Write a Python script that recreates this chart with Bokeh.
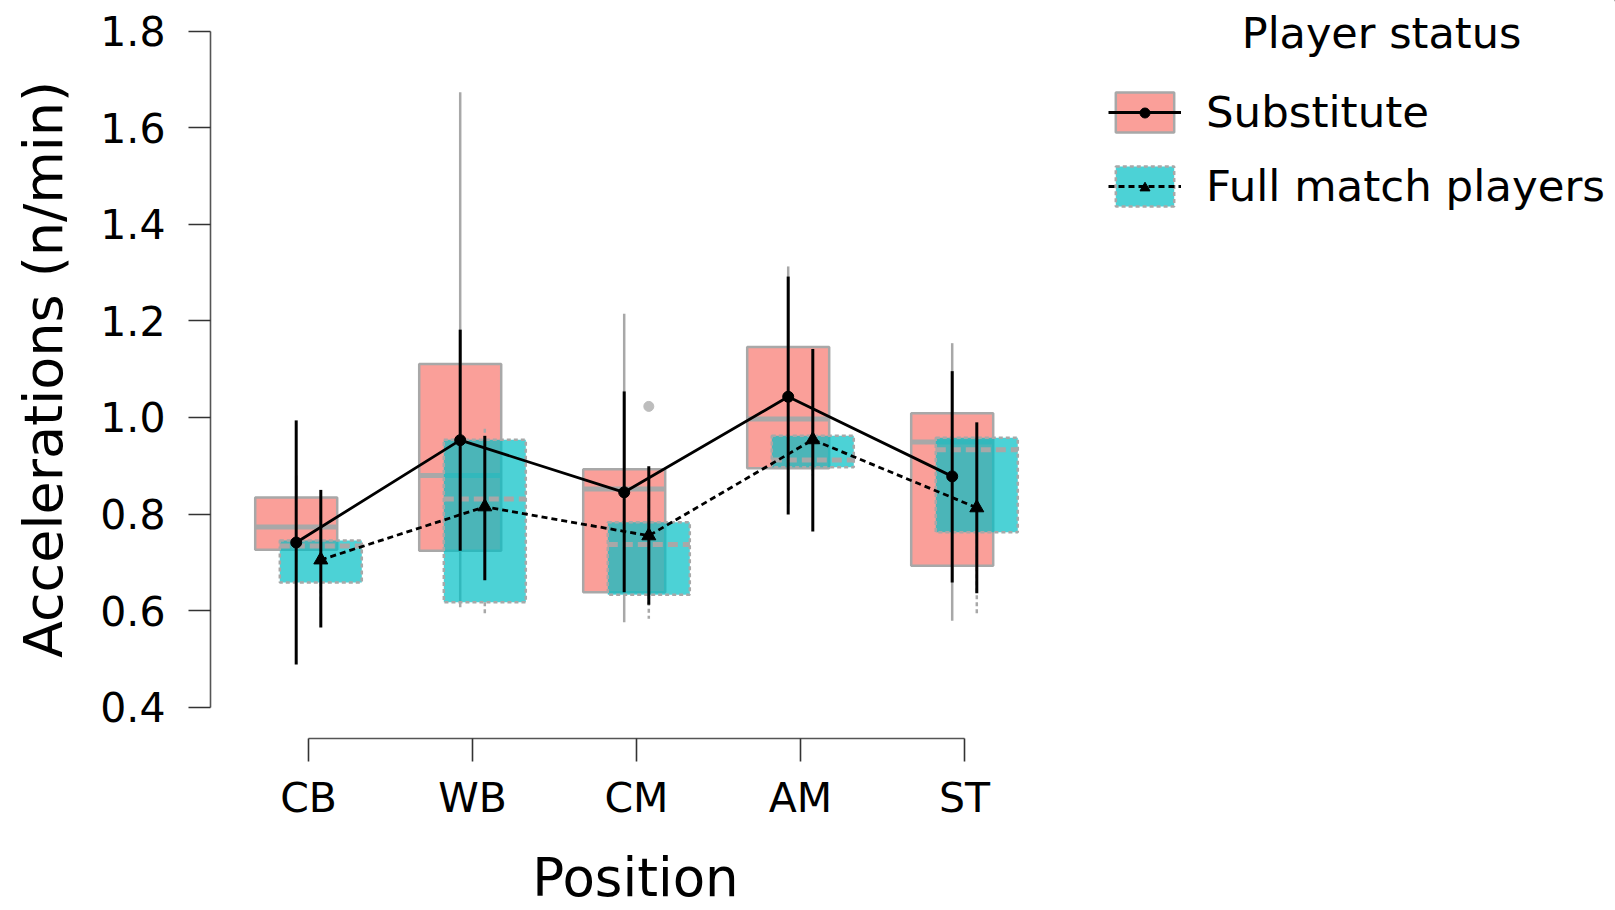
from bokeh.plotting import figure
from bokeh.layouts import row
from bokeh.models import (ColumnDataSource, Range1d, FixedTicker, PrintfTickFormatter,
                          Legend, LegendItem, Label)
from bokeh.transform import dodge
from bokeh.embed import file_html
from bokeh.resources import INLINE

# ---------------- data ----------------
positions = ["CB", "WB", "CM", "AM", "ST"]
pos_index = [0, 1, 2, 3, 4]
y_ticks = [0.4, 0.6, 0.8, 1.0, 1.2, 1.4, 1.6, 1.8]

# Substitute (box summary)
sub_q1 = [0.726, 0.724, 0.638, 0.895, 0.693]
sub_med = [0.773, 0.880, 0.852, 0.997, 0.949]
sub_q3 = [0.834, 1.111, 0.893, 1.146, 1.009]
sub_wlo = [0.700, 0.607, 0.576, 0.820, 0.579]
sub_whi = [0.880, 1.674, 1.215, 1.313, 1.154]
# Substitute (mean +/- sd)
sub_mean = [0.741, 0.953, 0.845, 1.043, 0.878]
sub_lo = [0.488, 0.724, 0.638, 0.799, 0.658]
sub_hi = [0.994, 1.182, 1.054, 1.292, 1.096]

# Full match players (box summary)
full_q1 = [0.658, 0.617, 0.633, 0.897, 0.762]
full_med = [0.734, 0.831, 0.737, 0.912, 0.933]
full_q3 = [0.745, 0.954, 0.783, 0.962, 0.958]
full_wlo = [0.620, 0.593, 0.583, 0.880, 0.593]
full_whi = [0.800, 0.980, 0.860, 0.990, 0.960]
# Full match players (mean +/- sd)
full_mean = [0.705, 0.815, 0.755, 0.954, 0.813]
full_lo = [0.565, 0.663, 0.612, 0.764, 0.636]
full_hi = [0.850, 0.962, 0.899, 1.142, 0.990]

# outliers
full_out_pos = ["CM"]
full_out_val = [1.023]

x_title = "Position"
y_title = "Accelerations (n/min)"
legend_title = "Player status"
series_names = ["Substitute", "Full match players"]

# ---------------- style ----------------
FONT = "DejaVu Sans"
PINK = "#F8766D"
TEAL = "#00BFC4"
GREY = "#A8A8A8"
DODGE = 0.075
BOX_W = 0.5

sub_src = ColumnDataSource(dict(x=pos_index, q1=sub_q1, med=sub_med, q3=sub_q3,
                                wlo=sub_wlo, whi=sub_whi, mean=sub_mean,
                                lo=sub_lo, hi=sub_hi))
full_src = ColumnDataSource(dict(x=pos_index, q1=full_q1, med=full_med, q3=full_q3,
                                 wlo=full_wlo, whi=full_whi, mean=full_mean,
                                 lo=full_lo, hi=full_hi))
out_src = ColumnDataSource(dict(x=[positions.index(c) for c in full_out_pos],
                                y=full_out_val))

box_sub_style = dict(fill_color=PINK, fill_alpha=0.7, line_color=GREY, line_width=2.5)
box_full_style = dict(fill_color=TEAL, fill_alpha=0.7, line_color=GREY, line_width=2.5,
                      line_dash="4 3")
line_sub_style = dict(line_color="black", line_width=2.8)
line_full_style = dict(line_color="black", line_width=2.8, line_dash="6 4")

# ---------------- main plot ----------------
p = figure(width=1060, height=910, output_backend="svg", toolbar_location=None,
           x_range=Range1d(-0.5976, 4.5854), y_range=Range1d(0.3349, 1.8640))
p.min_border_left = 210
p.min_border_right = 0
p.min_border_top = 0
p.min_border_bottom = 172
p.outline_line_color = None
p.grid.visible = False
p.background_fill_color = "white"
p.border_fill_color = "white"

# Substitute boxes
p.vbar(x=dodge("x", -DODGE), width=BOX_W, bottom="q1", top="q3", source=sub_src,
       **box_sub_style)
p.segment(x0=dodge("x", -DODGE), x1=dodge("x", -DODGE), y0="q3", y1="whi", source=sub_src,
          line_color=GREY, line_width=2.5)
p.segment(x0=dodge("x", -DODGE), x1=dodge("x", -DODGE), y0="q1", y1="wlo", source=sub_src,
          line_color=GREY, line_width=2.5)
p.segment(x0=dodge("x", -DODGE - BOX_W / 2), x1=dodge("x", -DODGE + BOX_W / 2),
          y0="med", y1="med", source=sub_src, line_color=GREY, line_width=5)

# Full match boxes
p.vbar(x=dodge("x", DODGE), width=BOX_W, bottom="q1", top="q3", source=full_src,
       **box_full_style)
p.segment(x0=dodge("x", DODGE), x1=dodge("x", DODGE), y0="q3", y1="whi", source=full_src,
          line_color=GREY, line_width=2.5, line_dash="4 3")
p.segment(x0=dodge("x", DODGE), x1=dodge("x", DODGE), y0="q1", y1="wlo", source=full_src,
          line_color=GREY, line_width=2.5, line_dash="4 3")
p.segment(x0=dodge("x", DODGE - BOX_W / 2), x1=dodge("x", DODGE + BOX_W / 2),
          y0="med", y1="med", source=full_src, line_color=GREY, line_width=5,
          line_dash="10 5")
p.scatter(x=dodge("x", DODGE), y="y", source=out_src, size=10, color="#BDBDBD")

# error bars
p.segment(x0=dodge("x", -DODGE), x1=dodge("x", -DODGE), y0="lo", y1="hi", source=sub_src,
          line_color="black", line_width=3)
p.segment(x0=dodge("x", DODGE), x1=dodge("x", DODGE), y0="lo", y1="hi", source=full_src,
          line_color="black", line_width=3)

# mean lines + markers
p.line(x=dodge("x", -DODGE), y="mean", source=sub_src, **line_sub_style)
p.line(x=dodge("x", DODGE), y="mean", source=full_src, **line_full_style)
p.scatter(x=dodge("x", -DODGE), y="mean", source=sub_src, marker="circle", size=11,
          color="black")
p.scatter(x=dodge("x", DODGE), y="mean", source=full_src, marker="triangle", size=14,
          color="black")

# axes
for ax in (p.xaxis[0], p.yaxis[0]):
    ax.axis_line_color = "#555555"
    ax.axis_line_width = 1.6
    ax.major_tick_line_color = "#333333"
    ax.major_tick_line_width = 1.6
    ax.major_tick_in = 0
    ax.minor_tick_line_color = None
    ax.major_label_text_font = FONT
    ax.major_label_text_font_size = "41px"
    ax.major_label_text_color = "black"
    ax.axis_label_text_font = FONT
    ax.axis_label_text_font_style = "normal"
    ax.axis_label_text_color = "black"

p.xaxis.ticker = FixedTicker(ticks=pos_index)
p.xaxis.major_label_overrides = {i: name for i, name in zip(pos_index, positions)}
p.xaxis.bounds = (pos_index[0], pos_index[-1])
p.xaxis.major_tick_out = 23
p.xaxis.major_label_standoff = 12
p.xaxis.axis_label = x_title
p.xaxis.axis_label_text_font_size = "53px"
p.xaxis.axis_label_standoff = 22

p.yaxis.ticker = FixedTicker(ticks=y_ticks)
p.yaxis.formatter = PrintfTickFormatter(format="%.1f")
p.yaxis.bounds = (y_ticks[0], y_ticks[-1])
p.yaxis.major_tick_out = 22
p.yaxis.major_label_standoff = 23
p.yaxis.axis_label = y_title
p.yaxis.axis_label_text_font_size = "54px"
p.yaxis.axis_label_standoff = 22

# ---------------- legend panel ----------------
q = figure(width=555, height=910, output_backend="svg", toolbar_location=None,
           x_range=Range1d(-20, -19), y_range=Range1d(-20, -19),
           x_axis_type=None, y_axis_type=None)
q.min_border_left = 0
q.min_border_right = 0
q.min_border_top = 0
q.min_border_bottom = 0
q.outline_line_color = None
q.grid.visible = False
q.background_fill_color = "white"
q.border_fill_color = "white"

# legend key renderers (same data, outside this panel's visible range)
k_sub_box = q.vbar(x="x", width=BOX_W, bottom="q1", top="q3", source=sub_src, **box_sub_style)
k_sub_line = q.line(x="x", y="mean", source=sub_src, **line_sub_style)
k_full_box = q.vbar(x="x", width=BOX_W, bottom="q1", top="q3", source=full_src, **box_full_style)
k_full_line = q.line(x="x", y="mean", source=full_src, **line_full_style)
k_sub_pt = q.scatter(x="x", y="mean", source=sub_src, marker="circle", size=11, color="black")
k_full_pt = q.scatter(x="x", y="mean", source=full_src, marker="triangle", size=14,
                      color="black")

legend = Legend(items=[LegendItem(label=series_names[0], renderers=[k_sub_box, k_sub_line]),
                       LegendItem(label=series_names[1], renderers=[k_full_box, k_full_line])],
                location=(48, 527), glyph_width=73, glyph_height=50, label_height=50,
                spacing=24, label_standoff=25, padding=0, margin=0,
                border_line_alpha=0, background_fill_alpha=0,
                label_text_font=FONT, label_text_font_size="43.5px", label_text_color="black")
q.add_layout(legend)

# point keys (small, on top of the box keys)
legend_pt = Legend(items=[LegendItem(label="", renderers=[k_sub_pt]),
                          LegendItem(label="", renderers=[k_full_pt])],
                   location=(72, 538), glyph_width=25, glyph_height=25, label_height=25,
                   spacing=50, padding=0, margin=0, border_line_alpha=0,
                   background_fill_alpha=0, label_text_font_size="1px", label_standoff=0)
q.add_layout(legend_pt)

q.add_layout(Label(x=321, y=706, x_units="screen", y_units="screen", text=legend_title,
                   text_align="center", text_baseline="middle", text_font=FONT,
                   text_font_size="43px", text_color="black"))

layout = row(p, q)
open("out.html", "w").write(file_html(layout, INLINE))
